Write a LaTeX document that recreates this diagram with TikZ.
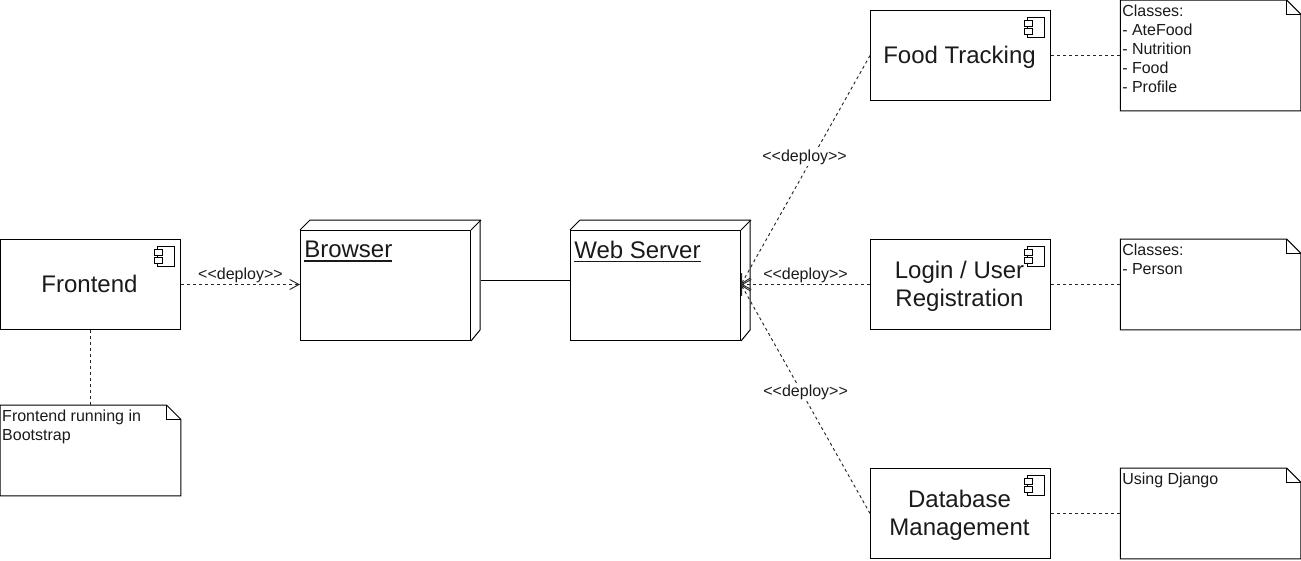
\documentclass[tikz,border=0pt]{standalone}
\usepackage{fontspec}
\setmainfont{Liberation Sans}
\usetikzlibrary{arrows.meta}
\definecolor{inkc}{HTML}{1A1A1A}
\newcommand{\ulbar}[1]{\leavevmode\setbox0\hbox{#1}\rlap{\rule[-3.2pt]{\wd0}{1.1pt}}\box0}
\newcommand{\deptext}{{<}{<}deploy{>}{>}}
\tikzset{
  boxline/.style={draw=black,line width=0.75pt},
  compbox/.style={boxline,fill=white,minimum width=135pt,minimum height=67.5pt,inner sep=0pt,align=center,font=\fontsize{18pt}{21pt}\selectfont,text=inkc},
  comptext/.style={inner sep=0pt,align=center,text=inkc,font=\fontsize{18pt}{21pt}\selectfont},
  nodebox/.style={boxline,fill=white,minimum width=127.5pt,minimum height=82.5pt,inner sep=0pt},
  notebody/.style={minimum width=135pt,inner sep=0pt},
  notetext/.style={anchor=north west,inner sep=0pt,align=left,text=inkc,font=\fontsize{12pt}{14.25pt}\selectfont},
  headtext/.style={anchor=north west,inner sep=0pt,text=inkc,font=\fontsize{18pt}{21pt}\selectfont},
  dep/.style={line width=0.7pt,draw=black!85,dash pattern=on 2.25pt off 2.25pt},
  deparrow/.style={dep,-{Straight Barb[length=7pt,width=7.5pt,line width=0.7pt]}},
  deplabel/.style={fill=white,inner sep=1pt,text=inkc,font=\fontsize{12pt}{14pt}\selectfont},
  compicon/.pic={
    \draw[line width=0.6pt] (-24,7) rectangle (-7,27);
    \draw[line width=0.6pt,fill=white] (-27,10) rectangle (-19,16);
    \draw[line width=0.6pt,fill=white] (-27,18) rectangle (-19,24);
  },
}
\newcommand{\notebox}[5]{%
  \node[notebody,minimum height=#4*0.75pt] (#1) at (#2+90,#3+#4/2) {};
  \draw[boxline,line join=miter] (#1.north west) -- ([xshift=-14*0.75pt]#1.north east) -- ([yshift=-14*0.75pt]#1.north east) -- (#1.south east) -- (#1.south west) -- cycle;
  \draw[boxline] ([xshift=-14*0.75pt]#1.north east) -- ([xshift=-14*0.75pt,yshift=-14*0.75pt]#1.north east) -- ([yshift=-14*0.75pt]#1.north east);
  \node[notetext] (#1t) at ([xshift=1.3pt,yshift=-3.5pt]#1.north west) {#5};
}
\newcommand{\cubeextra}[1]{%
  \draw[boxline,line join=miter] (#1.north west) -- ++(10,-10) -- ++(170,0) -- ++(0,110) -- (#1.south east);
  \draw[boxline] (#1.north east) -- ++(10,-10);
}
\begin{document}
\begin{tikzpicture}[x=0.75pt,y=-0.75pt]
\useasboundingbox (0,0) rectangle (1301,560);
% components
\node[compbox] (fe) at (90.5,284.5) {};
\node[compbox] (food) at (960.5,55.5) {};
\node[compbox] (login) at (960.5,284.5) {};
\node[compbox] (db) at (960.5,513.5) {};
\node[comptext] (fet) at (89.5,283.5) {Frontend};
\node[comptext] (foodt) at (959.5,57.5) {Food Tracking};
\node[comptext] (logint) at (959.5,286) {Login / User\\Registration};
\node[comptext] (dbt) at (959.5,515) {Database\\Management};
\foreach \n in {fe,food,login,db} { \pic at (\n.north east) {compicon}; }
% deployment nodes
\node[nodebox] (br) at (385.5,285.5) {};
\node[nodebox] (web) at (655.5,285.5) {};
\cubeextra{br}
\cubeextra{web}
\node[headtext] (brt) at (304,240.5) {\ulbar{Browser}};
\node[headtext] (webt) at (574,240.5) {\ulbar{Web Server}};
% notes
\notebox{nfe}{0.5}{405.5}{90}{Frontend running in\\Bootstrap}
\notebox{nfood}{1120.5}{0.5}{110}{Classes:\\- AteFood\\- Nutrition\\- Food\\- Profile}
\notebox{nlogin}{1120.5}{239.5}{90}{Classes:\\- Person}
\notebox{ndb}{1120.5}{468.5}{90}{Using Django}
% connectors
\draw[line width=0.75pt] ([shift={(10,-5)}]br.east) -- ([yshift=5*0.75pt]web.west);
\draw[deparrow] (fe.east) -- (br.west |- fe.east) node[midway,above=0pt,deplabel,fill=none] (l1) {\deptext};
\draw[deparrow] (food.west) -- (web.east |- login.west) node[pos=0.44,deplabel,xshift=-6.5pt,yshift=-1pt] (l2) {\deptext};
\draw[deparrow] (login.west) -- (web.east |- login.west) node[midway,above=0pt,deplabel,fill=none] (l3) {\deptext};
\draw[deparrow] (db.west) -- (web.east |- login.west) node[pos=0.535,deplabel,xshift=3.5pt,yshift=-1pt] (l4) {\deptext};
\draw[dep] (fe.south) -- (nfe.north);
\draw[dep] (food.east) -- (nfood.west);
\draw[dep] (login.east) -- (nlogin.west);
\draw[dep] (db.east) -- (ndb.west);
\end{tikzpicture}
\end{document}
